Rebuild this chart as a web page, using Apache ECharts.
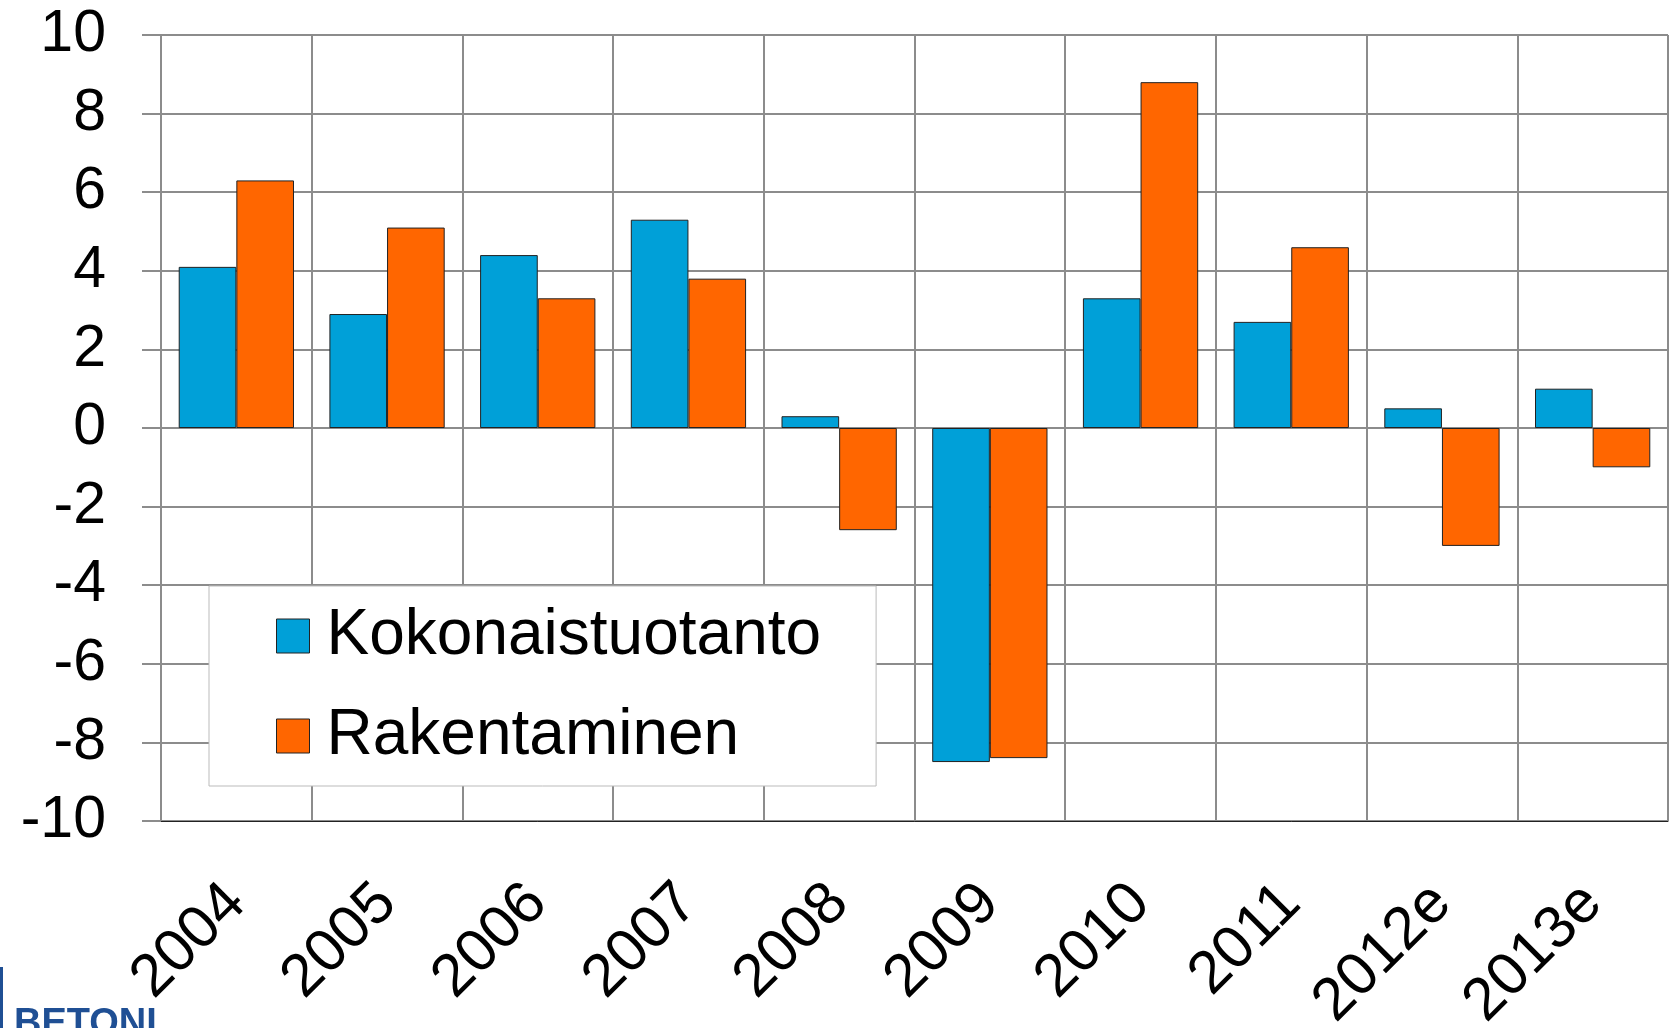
<!DOCTYPE html>
<html>
<head>
<meta charset="utf-8">
<script src="https://cdn.jsdelivr.net/npm/echarts@6/dist/echarts.min.js"></script>
<style>
html, body { margin: 0; padding: 0; background: #fff; }
#main { width: 1673px; height: 1028px; }
</style>
</head>
<body>
<div id="main"></div>
<script>
// data
var years = ['2004', '2005', '2006', '2007', '2008', '2009', '2010', '2011', '2012e', '2013e'];
var kokonaistuotanto = [4.1, 2.9, 4.4, 5.3, 0.3, -8.5, 3.3, 2.7, 0.5, 1.0];
var rakentaminen = [6.3, 5.1, 3.3, 3.8, -2.6, -8.4, 8.8, 4.6, -3.0, -1.0];
var seriesNames = ['Kokonaistuotanto', 'Rakentaminen'];

var myChart = echarts.init(document.getElementById('main'));
option = {
    animation: false,
    backgroundColor: '#fff',
    textStyle: { fontFamily: 'Liberation Sans, Arial, sans-serif' },
    grid: {
        left: 161,
        right: 5,
        top: 35,
        bottom: 207,
        outerBoundsMode: 'none',
        containLabel: false,
        show: true,
        borderColor: '#222',
        borderWidth: 1
    },
    legend: {
        orient: 'vertical',
        left: 209,
        top: 586,
        data: seriesNames,
        backgroundColor: '#fff',
        borderColor: '#bbb',
        borderWidth: 1,
        padding: [14, 55, 14, 67],
        itemWidth: 33,
        itemHeight: 34,
        itemGap: 28,
        icon: 'rect',
        itemStyle: { borderColor: '#222', borderWidth: 1 },
        textStyle: {
            fontSize: 64,
            lineHeight: 72,
            color: '#000',
            padding: [0, 0, 0, 12]
        }
    },
    xAxis: {
        type: 'category',
        data: years,
        axisLine: { onZero: false, lineStyle: { color: '#222', width: 1 } },
        axisTick: { show: false },
        splitLine: { show: true, lineStyle: { color: '#8c8c8c', width: 2 } },
        axisLabel: {
            rotate: 45,
            margin: 73,
            fontSize: 60,
            color: '#000',
            interval: 0,
            hideOverlap: false,
            padding: [24, 0, 0, 0]
        }
    },
    yAxis: {
        type: 'value',
        min: -10,
        max: 10,
        interval: 2,
        axisLine: { show: true, lineStyle: { color: '#8c8c8c', width: 2 } },
        axisTick: { show: true, length: 19, lineStyle: { color: '#8c8c8c', width: 2 } },
        splitLine: { show: true, lineStyle: { color: '#8c8c8c', width: 2 } },
        axisLabel: {
            margin: 55,
            fontSize: 59,
            color: '#000'
        }
    },
    series: [
        {
            name: seriesNames[0],
            type: 'bar',
            data: kokonaistuotanto,
            barGap: '0%',
            barCategoryGap: '23.5%',
            itemStyle: { color: '#00A0D8', borderColor: '#222', borderWidth: 1 }
        },
        {
            name: seriesNames[1],
            type: 'bar',
            data: rakentaminen,
            barGap: '0%',
            barCategoryGap: '23.5%',
            itemStyle: { color: '#FF6600', borderColor: '#222', borderWidth: 1 }
        }
    ],
    graphic: [
        {
            type: 'rect',
            shape: { x: 0, y: 967, width: 3, height: 61 },
            style: { fill: '#1f4f94' }
        },
        {
            type: 'text',
            left: 14,
            top: 1006,
            style: {
                text: 'BETONI',
                font: 'bold 38px Liberation Sans, Arial, sans-serif',
                fill: '#1f4f94'
            }
        }
    ]
};
myChart.setOption(option);
</script>
</body>
</html>
